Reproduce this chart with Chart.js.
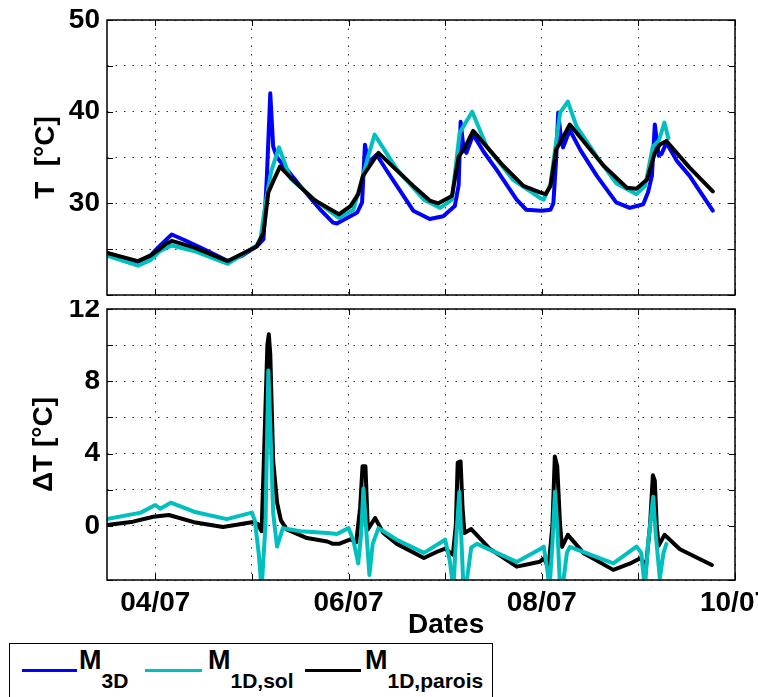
<!DOCTYPE html>
<html lang="fr">
<head>
<meta charset="UTF-8">
<title>T et ΔT</title>
<script src="https://cdn.jsdelivr.net/npm/chart.js"></script>
<style>
    body { margin: 0; background: #fff; font-family: "Liberation Sans", Arial, sans-serif; }
    #page { position: relative; width: 758px; height: 697px; overflow: hidden; }
    canvas { position: absolute; left: 0; }
    #topChart { top: 0; }
    #bottomChart { top: 300px; }
    .txt { position: absolute; font-weight: bold; white-space: nowrap; color: #000; }
    .txt sub { font-size: 21px; vertical-align: baseline; position: relative; top: 19px; }
    #legendBox { position: absolute; left: 9px; top: 643px; width: 484px; height: 70px; border: 1px solid #000; box-sizing: border-box; }
    .swatch { position: absolute; top: 669px; height: 3px; }
</style>
</head>
<body>
<div id="page">
    <canvas id="topChart" width="758" height="300"></canvas>
    <canvas id="bottomChart" width="758" height="340"></canvas>
    <div class="txt" style="left:408px; top:610px; font-size:28px; line-height:28px;">Dates</div>
    <div id="legendBox"></div>
    <div class="swatch" style="left:22px; width:55px; background:#0000ff;"></div>
    <div class="txt" style="left:79px; top:647px; font-size:27px; line-height:27px;">M<sub>3D</sub></div>
    <div class="swatch" style="left:145px; width:57px; background:#00bfbf;"></div>
    <div class="txt" style="left:208px; top:647px; font-size:27px; line-height:27px;">M<sub>1D,sol</sub></div>
    <div class="swatch" style="left:305px; width:56px; background:#000000;"></div>
    <div class="txt" style="left:365px; top:647px; font-size:27px; line-height:27px;">M<sub>1D,parois</sub></div>
</div>

<script>
    // grid / labelled ticks
    const gridDays = [4, 5, 6, 7, 8, 9];      // days of July with a grid line
    const dayTicks = [4, 6, 8, 10];          // labelled dates
    const tempTicks = [30, 40, 50];
    const deltaTicks = [0, 4, 8, 12];

    // T [°C], x in days of July
    const m3dDays = [3.5, 3.65, 3.82, 3.95, 4.03, 4.1, 4.17, 4.3, 4.5, 4.75, 4.9, 5.05, 5.12, 5.155, 5.19, 5.22, 5.26, 5.4, 5.5, 5.7, 5.84, 5.88, 5.95, 6.09, 6.14, 6.17, 6.21, 6.24, 6.29, 6.4, 6.5, 6.67, 6.84, 6.98, 7.1, 7.14, 7.16, 7.19, 7.22, 7.29, 7.4, 7.53, 7.74, 7.84, 8.0, 8.09, 8.12, 8.15, 8.17, 8.2, 8.22, 8.29, 8.4, 8.57, 8.77, 8.91, 9.05, 9.1, 9.14, 9.17, 9.21, 9.24, 9.29, 9.4, 9.53, 9.77];
    const m3dTemp = [24.6, 24.1, 23.6, 24.3, 25.2, 25.9, 26.6, 26.0, 25.0, 23.7, 24.3, 25.3, 26.1, 33.0, 42.0, 36.2, 35.0, 33.2, 31.9, 29.4, 27.9, 27.8, 28.2, 29.0, 30.1, 36.4, 34.0, 34.8, 35.3, 33.5, 31.9, 29.2, 28.3, 28.6, 29.7, 32.0, 38.9, 36.0, 35.5, 37.5, 35.6, 33.7, 30.4, 29.3, 29.2, 29.3, 30.0, 35.0, 39.9, 37.0, 36.1, 38.0, 35.8, 33.0, 30.1, 29.5, 29.9, 31.2, 33.0, 38.6, 35.2, 35.4, 36.6, 34.6, 33.0, 29.2];

    const solDays = [3.5, 3.82, 3.95, 4.05, 4.17, 4.4, 4.75, 5.05, 5.09, 5.14, 5.2, 5.28, 5.4, 5.67, 5.9, 6.05, 6.12, 6.2, 6.27, 6.5, 6.78, 6.95, 7.07, 7.15, 7.28, 7.43, 7.7, 7.98, 8.02, 8.09, 8.19, 8.27, 8.36, 8.57, 8.77, 8.98, 9.07, 9.15, 9.21, 9.27, 9.31];
    const solTemp = [24.3, 23.2, 23.8, 24.8, 25.4, 24.8, 23.4, 25.4, 26.2, 30.0, 33.5, 36.1, 32.7, 30.2, 28.4, 29.3, 31.9, 35.0, 37.5, 33.7, 30.4, 29.5, 30.4, 37.7, 40.0, 36.2, 32.6, 30.6, 30.4, 32.1, 39.9, 41.1, 38.4, 35.1, 32.2, 31.0, 31.9, 36.2, 36.8, 38.8, 37.1];

    const paroisDays = [3.5, 3.82, 3.95, 4.03, 4.1, 4.17, 4.4, 4.75, 5.05, 5.12, 5.17, 5.22, 5.29, 5.4, 5.64, 5.9, 6.02, 6.1, 6.15, 6.22, 6.31, 6.5, 6.67, 6.84, 6.93, 7.07, 7.14, 7.2, 7.29, 7.6, 7.81, 7.98, 8.04, 8.09, 8.15, 8.21, 8.29, 8.64, 8.88, 8.98, 9.09, 9.17, 9.22, 9.29, 9.53, 9.77];
    const paroisTemp = [24.6, 23.7, 24.3, 24.9, 25.5, 25.9, 25.2, 23.7, 25.3, 26.8, 31.2, 32.4, 34.0, 32.8, 30.4, 28.8, 29.7, 31.0, 33.0, 34.1, 35.5, 33.6, 31.9, 30.3, 30.0, 30.8, 35.1, 36.0, 37.9, 34.1, 31.9, 31.2, 31.0, 31.9, 35.9, 37.0, 38.6, 34.1, 31.7, 31.6, 32.6, 35.5, 36.4, 36.8, 33.9, 31.3];

    // ΔT [°C]
    const solDeltaDays = [3.5, 3.85, 4.0, 4.05, 4.16, 4.4, 4.74, 5.0, 5.03, 5.07, 5.1, 5.14, 5.17, 5.2, 5.22, 5.26, 5.32, 5.5, 5.78, 5.88, 6.0, 6.05, 6.1, 6.13, 6.154, 6.18, 6.216, 6.25, 6.31, 6.5, 6.78, 7.0, 7.05, 7.085, 7.11, 7.147, 7.17, 7.19, 7.22, 7.27, 7.33, 7.74, 7.98, 8.02, 8.06, 8.08, 8.11, 8.137, 8.16, 8.19, 8.22, 8.26, 8.29, 8.74, 8.98, 9.03, 9.067, 9.1, 9.153, 9.18, 9.222, 9.26, 9.29];
    const solDelta = [0.37, 0.73, 1.15, 0.95, 1.28, 0.78, 0.37, 0.73, 0.3, -1.5, -3.5, 0.0, 8.6, 4.0, 0.7, -1.15, -0.13, -0.3, -0.4, -0.45, -0.13, -0.8, -2.08, -0.5, 2.07, 0.0, -2.72, -1.0, -0.13, -0.77, -1.5, -0.77, -2.0, -3.5, -1.0, 1.89, -1.0, -3.5, -3.2, -1.2, -1.0, -2.0, -1.3, -1.15, -2.5, -3.5, -1.0, 1.89, 0.0, -3.5, -3.2, -1.5, -1.17, -2.08, -1.15, -1.5, -3.5, -1.0, 1.61, -0.5, -2.9, -1.5, -1.0];

    const paroisDeltaDays = [3.5, 3.77, 3.98, 4.14, 4.4, 4.7, 5.0, 5.06, 5.1, 5.12, 5.16, 5.175, 5.19, 5.22, 5.26, 5.3, 5.36, 5.57, 5.78, 5.84, 5.9, 6.02, 6.08, 6.12, 6.145, 6.175, 6.2, 6.275, 6.36, 6.5, 6.78, 6.91, 7.0, 7.08, 7.11, 7.13, 7.16, 7.18, 7.2, 7.27, 7.46, 7.74, 7.98, 8.02, 8.07, 8.11, 8.135, 8.16, 8.19, 8.21, 8.27, 8.43, 8.74, 8.91, 9.02, 9.08, 9.12, 9.15, 9.17, 9.19, 9.21, 9.27, 9.43, 9.76];
    const paroisDelta = [0.05, 0.23, 0.5, 0.6, 0.2, -0.07, 0.2, 0.1, -0.3, 3.0, 10.0, 10.6, 9.5, 3.6, 1.3, 0.3, -0.2, -0.68, -0.87, -1.0, -1.0, -0.75, -0.9, 1.0, 3.3, 3.3, -0.2, 0.43, -0.4, -1.0, -1.78, -1.45, -1.26, -1.6, 0.0, 3.5, 3.56, 1.0, -0.4, -0.18, -1.26, -2.26, -1.99, -1.8, -2.3, 0.0, 3.83, 3.3, 0.0, -1.17, -0.5, -1.5, -2.44, -2.1, -1.8, -2.2, 0.0, 2.8, 2.5, 0.0, -1.1, -0.5, -1.3, -2.17];

    const BLUE = '#0000ff', CYAN = '#00bfbf', BLACK = '#000000';

    Chart.defaults.font.family = '"Liberation Sans", Arial, sans-serif';
    Chart.defaults.font.weight = 'bold';
    Chart.defaults.font.size = 28;
    Chart.defaults.color = '#000';

    function pts(xs, ys) {
        return xs.map((x, i) => ({x: x, y: ys[i]}));
    }

    function series(xs, ys, color, order) {
        return {
            data: pts(xs, ys), borderColor: color, borderWidth: 4, order: order,
            pointRadius: 0, tension: 0, fill: false, borderJoinStyle: 'round', borderCapStyle: 'round'
        };
    }

    const dateLabel = v => dayTicks.includes(v) ? String(v).padStart(2, '0') + '/07' : '';

    const gridOpts = { color: 'rgba(0,0,0,0.8)', lineWidth: 1, drawTicks: false };
    const borderOpts = { display: false, dash: [1.5, 7] };

    // fixed ticks and no extra room for labels hanging over the plot edges
    function xTicks(s) {
        s.ticks = gridDays.concat([10]).map(v => ({value: v}));
    }
    function noOverhang(s) {
        s.paddingTop = 0; s.paddingBottom = 0; s.paddingLeft = 0; s.paddingRight = 0;
    }

    // box round the plot and small inward ticks, like the original figure
    const framePlugin = {
        id: 'frame',
        afterDraw(chart) {
            const {ctx, chartArea: a, scales} = chart;
            ctx.save();
            ctx.strokeStyle = '#000';
            ctx.lineWidth = 1;
            ctx.beginPath();
            scales.x.ticks.forEach(t => {
                const px = Math.round(scales.x.getPixelForValue(t.value)) + 0.5;
                ctx.moveTo(px, a.bottom); ctx.lineTo(px, a.bottom - 6);
                ctx.moveTo(px, a.top); ctx.lineTo(px, a.top + 6);
            });
            scales.y.ticks.forEach(t => {
                const py = Math.round(scales.y.getPixelForValue(t.value)) + 0.5;
                ctx.moveTo(a.left, py); ctx.lineTo(a.left + 6, py);
                ctx.moveTo(a.right, py); ctx.lineTo(a.right - 6, py);
            });
            ctx.stroke();
            ctx.lineWidth = 1.5;
            ctx.strokeRect(a.left, a.top, a.right - a.left, a.bottom - a.top);
            ctx.restore();
        }
    };

    new Chart(document.getElementById('topChart'), {
        type: 'line',
        data: {
            datasets: [
                series(m3dDays, m3dTemp, BLUE, 2),
                series(solDays, solTemp, CYAN, 1),
                series(paroisDays, paroisTemp, BLACK, 0)
            ]
        },
        options: {
            responsive: false,
            animation: false,
            layout: { padding: { top: 20, right: 23, bottom: 0, left: 0 } },
            plugins: { legend: { display: false }, tooltip: { enabled: false } },
            scales: {
                x: {
                    type: 'linear', min: 3.5, max: 10,
                    ticks: { display: false, autoSkip: false },
                    grid: gridOpts, border: borderOpts,
                    afterBuildTicks: xTicks,
                    afterFit(s) { s.height = 5; noOverhang(s); }
                },
                y: {
                    min: 20, max: 50,
                    ticks: { stepSize: 5, autoSkip: false, padding: 7,
                             callback: v => tempTicks.includes(v) ? String(v) : '' },
                    grid: gridOpts, border: borderOpts,
                    title: { display: true, text: 'T  [°C]', padding: { top: 29, bottom: 0 } },
                    afterFit(s) { s.width = 107; noOverhang(s); }
                }
            }
        },
        plugins: [framePlugin]
    });

    new Chart(document.getElementById('bottomChart'), {
        type: 'line',
        data: {
            datasets: [
                series(paroisDeltaDays, paroisDelta, BLACK, 1),
                series(solDeltaDays, solDelta, CYAN, 0)
            ]
        },
        options: {
            responsive: false,
            animation: false,
            layout: { padding: { top: 9, right: 23, bottom: 0, left: 0 } },
            plugins: { legend: { display: false }, tooltip: { enabled: false } },
            scales: {
                x: {
                    type: 'linear', min: 3.5, max: 10,
                    ticks: { autoSkip: false, maxRotation: 0, minRotation: 0, padding: 6, callback: dateLabel },
                    grid: gridOpts, border: borderOpts,
                    afterBuildTicks: xTicks,
                    afterFit(s) { s.height = 60; noOverhang(s); }
                },
                y: {
                    min: -3, max: 12,
                    ticks: { stepSize: 2, autoSkip: false, padding: 7,
                             callback: v => deltaTicks.includes(v) ? String(v) : '' },
                    grid: gridOpts, border: borderOpts,
                    title: { display: true, text: 'ΔT [°C]', padding: { top: 27, bottom: 0 } },
                    afterFit(s) { s.width = 107; noOverhang(s); }
                }
            }
        },
        plugins: [framePlugin]
    });
</script>
</body>
</html>
